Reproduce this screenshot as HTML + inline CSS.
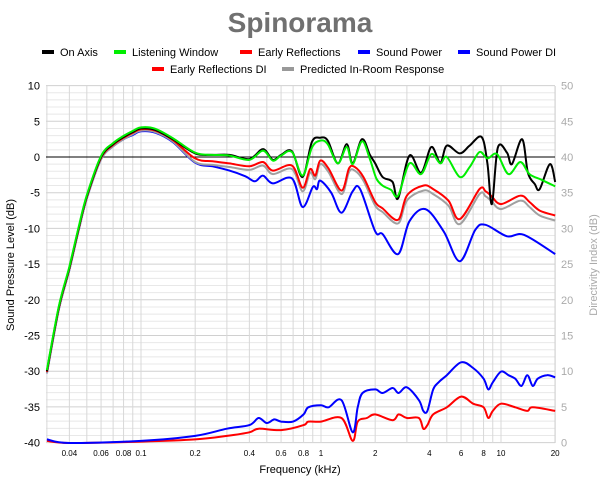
<!DOCTYPE html>
<html><head><meta charset="utf-8"><style>
body{margin:0;background:#fff;}
svg{display:block;font-family:"Liberation Sans",sans-serif;}
</style></head><body>
<svg id="s" width="600" height="480" xmlns="http://www.w3.org/2000/svg">
<rect width="600" height="480" fill="#fff"/>
<text x="300" y="32" text-anchor="middle" font-size="28" font-weight="bold" fill="#707070">Spinorama</text>
<g font-size="11" fill="#000">
<rect x="42" y="50" width="12" height="4" fill="#000"/><text x="60" y="56">On Axis</text>
<rect x="114" y="50" width="12" height="4" fill="#00ee00"/><text x="132" y="56">Listening Window</text>
<rect x="240" y="50" width="12" height="4" fill="#ff0000"/><text x="258" y="56">Early Reflections</text>
<rect x="358" y="50" width="12" height="4" fill="#0000ff"/><text x="376" y="56">Sound Power</text>
<rect x="458" y="50" width="12" height="4" fill="#0000ff"/><text x="476" y="56">Sound Power DI</text>
<rect x="152" y="67" width="12" height="4" fill="#ff0000"/><text x="170" y="73">Early Reflections DI</text>
<rect x="282" y="67" width="12" height="4" fill="#999"/><text x="300" y="73">Predicted In-Room Response</text>
</g>
<g id="grid"></g>
<g id="series" fill="none" stroke-width="2" stroke-linejoin="round"></g>
<g id="labels"></g>
<text x="300" y="473" text-anchor="middle" font-size="11">Frequency (kHz)</text>
<text transform="translate(14,265) rotate(-90)" text-anchor="middle" font-size="11">Sound Pressure Level (dB)</text>
<text transform="translate(597,265) rotate(-90)" text-anchor="middle" font-size="11" fill="#aaa">Directivity Index (dB)</text>
</svg>
<script>
const NS="http://www.w3.org/2000/svg";
const L=46,R=555,T=86,B=443;
const X=f=>321+180*Math.log10(f);
const Y=d=>157-7.14*d;
const YD=d=>443-7.14*d;
function el(p,tag,a,txt){const e=document.createElementNS(NS,tag);for(const k in a)e.setAttribute(k,a[k]);if(txt!==undefined)e.textContent=txt;p.appendChild(e);return e;}
const g=document.getElementById('grid'),lb=document.getElementById('labels');
for(let d=-40;d<=10;d++){el(g,'line',{x1:L,x2:R,y1:Y(d),y2:Y(d),stroke:d%5==0?'#d0d0d0':'#e8e8e8','stroke-width':1});}
for(const dec of [0.01,0.1,1,10]){for(let m=1;m<10;m++){const f=dec*m;if(f<0.03||f>20)continue;el(g,'line',{x1:X(f),x2:X(f),y1:T,y2:B,stroke:'#d8d8d8','stroke-width':1});}}
el(g,'line',{x1:R,x2:R,y1:T,y2:B,stroke:'#d0d0d0'});
el(g,'line',{x1:L,x2:R,y1:Y(0),y2:Y(0),stroke:'#000','stroke-width':1});
for(let d=-40;d<=10;d+=5){el(lb,'text',{x:40,y:Y(d)+4,'text-anchor':'end','font-size':11},d);el(lb,'text',{x:561,y:Y(d)+4,'font-size':11,fill:'#aaa'},d+40);}
[[0.04,'0.04'],[0.06,'0.06'],[0.08,'0.08'],[0.1,'0.1'],[0.2,'0.2'],[0.4,'0.4'],[0.6,'0.6'],[0.8,'0.8'],[1,'1'],[2,'2'],[4,'4'],[6,'6'],[8,'8'],[10,'10'],[20,'20']].forEach(([f,t])=>el(lb,'text',{x:X(f),y:456,'text-anchor':'middle','font-size':8},t));
const low=[[0.03,-30],[0.035,-21],[0.04,-15.5],[0.045,-10],[0.05,-5.5],[0.06,0],[0.07,1.8],[0.08,2.8],[0.09,3.5],[0.1,4],[0.12,3.8],[0.15,2.5]];
const on=low.concat([[0.2,0.5],[0.25,0.3],[0.31,0.3],[0.4,-0.3],[0.476,1.1],[0.54,-0.4],[0.6,0.3],[0.69,0.8],[0.79,-2.8],[0.89,2.1],[0.99,2.7],[1.09,2.3],[1.24,-0.9],[1.39,1.8],[1.5,-0.9],[1.69,2.5],[1.87,0.3],[2.0,-0.9],[2.2,-2.8],[2.5,-3.5],[2.68,-5.8],[3.1,0.2],[3.6,-2.2],[4.1,1.4],[4.6,-0.8],[5,1.6],[5.9,0.5],[6.7,1.6],[7.8,2.8],[8.4,-0.9],[8.9,-6.6],[9.6,1.3],[10.8,0.6],[11.5,-1],[13.1,2.5],[14.1,-2.2],[15.4,-3.8],[16.4,-4.5],[18.7,-1],[20,-3.5]]);
const lw=low.map(([f,d])=>[f,d+0.15]).concat([[0.2,0.6],[0.25,0.3],[0.31,0.2],[0.4,-0.4],[0.476,0.9],[0.54,-0.5],[0.6,0.2],[0.69,0.7],[0.79,-2.6],[0.89,1.3],[0.99,2.3],[1.09,1.8],[1.24,-0.9],[1.39,1.4],[1.5,-1],[1.69,2.2],[1.87,-0.3],[2.03,-3],[2.2,-4],[2.45,-4.6],[2.68,-5.4],[3.1,-0.9],[3.6,-2.4],[4.1,0.4],[4.6,-0.9],[5,0],[5.9,-2.8],[6.7,-1.4],[7.6,0.7],[8.4,-0.2],[9.5,0.4],[11,-2.4],[12.8,-0.7],[14.4,-2.4],[16.8,-3.2],[20,-4.1]]);
const er=low.map(([f,d])=>[f,d-0.1]).concat([[0.2,-0.2],[0.25,-0.6],[0.31,-0.9],[0.4,-1.3],[0.476,-0.7],[0.54,-1.9],[0.69,-1.2],[0.79,-4.3],[0.87,-1.7],[0.93,-2.6],[0.99,-0.5],[1.1,-1.6],[1.3,-4.7],[1.43,-1.6],[1.54,-1.4],[1.72,-2.8],[2.0,-6.3],[2.2,-7.2],[2.68,-8.8],[3.0,-5.4],[3.7,-4],[4.2,-4.5],[5.1,-6.1],[5.9,-8.7],[7.6,-4.5],[8.2,-4.8],[8.8,-5.4],[10,-6.6],[12.8,-5.4],[14.4,-6.3],[16.4,-7.5],[20,-8.2]]);
const pir=er.map(([f,d])=>[f,f<0.2?d-0.2:(f<3?d-0.5:d-0.7)]);
const sp=low.map(([f,d])=>[f,f<0.09?d-0.3:d-0.4]).concat([[0.2,-0.8],[0.25,-1.3],[0.31,-1.9],[0.38,-2.7],[0.43,-3.4],[0.476,-2.6],[0.54,-3.7],[0.69,-3],[0.79,-7],[0.9,-4.2],[0.95,-4.5],[0.99,-3.3],[1.14,-5],[1.3,-7.8],[1.5,-4.8],[1.65,-4.5],[2.0,-10.4],[2.2,-10.8],[2.68,-13.6],[3.1,-9],[3.8,-7.3],[4.8,-10.4],[5.9,-14.6],[7.2,-10.2],[8.2,-9.5],[10.8,-11.1],[13.4,-10.9],[20,-13.6]]);
const spdi=[[0.03,0.5],[0.04,0],[0.1,0.3],[0.2,1],[0.3,2],[0.4,2.5],[0.45,3.5],[0.5,2.8],[0.55,3.3],[0.6,3],[0.7,3],[0.8,4],[0.85,5],[1,5.3],[1.1,5],[1.3,6],[1.5,1.5],[1.6,5],[1.7,7],[2,7.5],[2.2,7],[2.5,7.7],[2.7,7],[3,7.8],[3.5,6],[3.7,4.5],[3.9,4.5],[4.2,7.5],[4.5,8.5],[5,9.5],[6,11.3],[7,10.5],[8,9],[8.5,7.5],[9,8.5],[10,10],[11,9.5],[12,9],[13,8],[14,9.5],[15,8],[16,9],[18,9.5],[20,9.2]];
const erdi=[[0.03,0.3],[0.04,0],[0.1,0.2],[0.2,0.5],[0.3,1],[0.4,1.5],[0.45,2],[0.6,1.8],[0.8,2.5],[0.85,3],[1,3],[1.3,3.5],[1.5,0.3],[1.6,3],[1.8,3.5],[2,4],[2.5,3.2],[2.7,4],[3,3.5],[3.5,3.5],[3.7,2],[3.9,2.5],[4.2,4],[5,5],[6,6.5],[7,5.5],[8,5],[8.5,3.5],[9,4.5],[10,5.5],[12,5],[14,4.5],[15,5],[20,4.5]];
function path(pts,yf){const P=pts.map(([f,d])=>[X(f),yf(d)]);let s='M'+P[0][0].toFixed(1)+','+P[0][1].toFixed(1);
for(let i=0;i<P.length-1;i++){const p0=P[Math.max(0,i-1)],p1=P[i],p2=P[i+1],p3=P[Math.min(P.length-1,i+2)];
const c1=[p1[0]+(p2[0]-p0[0])/6,p1[1]+(p2[1]-p0[1])/6],c2=[p2[0]-(p3[0]-p1[0])/6,p2[1]-(p3[1]-p1[1])/6];
s+=' C'+c1.map(v=>v.toFixed(1))+' '+c2.map(v=>v.toFixed(1))+' '+p2.map(v=>v.toFixed(1));}return s;}
const S=document.getElementById('series');
[[erdi,YD,'#ff0000'],[spdi,YD,'#0000ff'],[sp,Y,'#0000ff'],[pir,Y,'#a0a0a0'],[er,Y,'#ff0000'],[on,Y,'#000'],[lw,Y,'#00ee00']].forEach(([p,yf,c])=>el(S,'path',{d:path(p,yf),stroke:c}));
</script>
</body></html>
